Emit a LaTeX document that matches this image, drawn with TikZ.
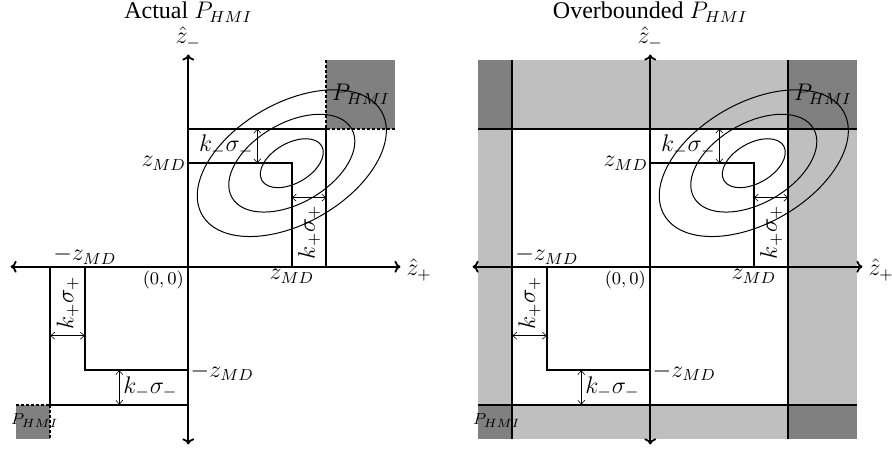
\documentclass[tikz,border=0pt]{standalone}
\usepackage[no-math]{fontspec}
\setmainfont{Liberation Serif}
\usetikzlibrary{arrows.meta}
\tikzset{
  lbl/.style={font=\large, inner sep=1pt},
  bnd/.style={line width=0.9pt},
  dsh/.style={line width=0.9pt, dash pattern=on 1.5pt off 1pt},
  dim/.style={line width=0.3pt,{Straight Barb[length=2pt,width=3.5pt]}-{Straight Barb[length=2pt,width=3.5pt]}},
  axisline/.style={line width=0.9pt,-{To[length=3pt,width=6pt]}},
  cont/.style={line width=0.5pt},
  darkfill/.style={fill=black!50},
  lightfill/.style={fill=black!25}
}
\newcommand\panelcommon[1]{%
  % contours
  \foreach \a in {1,2,3}{
    \draw[cont,rotate around={30:(3,3)}] (3,3) ellipse [x radius=\a, y radius=0.58*\a];
  }
  % axes
  \coordinate (#1xl) at (-5.15,0);
  \coordinate (#1xr) at (6.15,0);
  \coordinate (#1yb) at (0,-5.15);
  \coordinate (#1yt) at (0,6.15);
  \draw[axisline] (#1yb) -- (#1yt);
  \draw[axisline] (#1xl) -- (#1xr);
  \draw[axisline] (#1yt) -- (#1yb);
  \draw[axisline] (#1xr) -- (#1xl);
  % inner L shapes
  \coordinate (#1a1) at (0,3);
  \coordinate (#1a2) at (3,3);
  \coordinate (#1a3) at (3,0);
  \coordinate (#1b1) at (-3,0);
  \coordinate (#1b2) at (-3,-3);
  \coordinate (#1b3) at (0,-3);
  \draw[bnd] (#1a1) -- (#1a2) -- (#1a3);
  \draw[bnd] (#1b1) -- (#1b2) -- (#1b3);
  % dimension arrows
  \coordinate (#1d1) at (2,3); \coordinate (#1d2) at (2,4);
  \coordinate (#1e1) at (3,2); \coordinate (#1e2) at (4,2);
  \coordinate (#1f1) at (-4,-2); \coordinate (#1f2) at (-3,-2);
  \coordinate (#1g1) at (-2,-3); \coordinate (#1g2) at (-2,-4);
  \draw[dim] (#1d1) -- (#1d2);
  \draw[dim] (#1e1) -- (#1e2);
  \draw[dim] (#1f1) -- (#1f2);
  \draw[dim] (#1g1) -- (#1g2);
  % labels
  \node[lbl] (#1zm) at (0,6.63) {$\hat z_-$};
  \node[lbl] (#1zp) at (6.69,-0.1) {$\hat z_+$};
  \node[lbl,anchor=east] (#1zmd) at (0,3) {$z_{MD}$};
  \node[lbl,anchor=north] (#1zmdx) at (3,0) {$z_{MD}$};
  \node[lbl,anchor=south] (#1nzmd) at (-3,0) {$-z_{MD}$};
  \node[lbl,anchor=west] (#1nzmdy) at (0,-3.05) {$-z_{MD}$};
  \node[font=\small,anchor=north east,inner sep=2pt] (#1orig) at (0,0) {$(0,0)$};
  \node[lbl] (#1km1) at (1.1,3.5) {$k_-\sigma_-$};
  \node[lbl] (#1km2) at (-1.1,-3.5) {$k_-\sigma_-$};
  \node[lbl,rotate=90] (#1kp1) at (3.5,1.0) {$k_+\sigma_+$};
  \node[lbl,rotate=90] (#1kp2) at (-3.5,-1.05) {$k_+\sigma_+$};
  \node[lbl] (#1ph) at (5,5) {$P_{HMI}$};
  \node[font=\footnotesize,inner sep=0pt] (#1phs) at (-4.45,-4.45) {$P_{HMI}$};
}
\begin{document}
\begin{tikzpicture}[x=17.25pt,y=17.25pt]
\useasboundingbox (-5.458,-5.40) rectangle (20.397,7.73);
% ---------- left panel ----------
\begin{scope}
  \fill[darkfill] (4,4) rectangle (6,6);
  \fill[darkfill] (-5,-5) rectangle (-4,-4);
  \draw[dsh] (4,6) -- (4,4) -- (6,4);
  \draw[dsh] (-5,-4) -- (-4,-4) -- (-4,-5);
  \draw[bnd] (0,4) -- (4,4) -- (4,0);
  \draw[bnd] (-4,0) -- (-4,-4) -- (0,-4);
  \panelcommon{L}
  \node[lbl] (Ltitle) at (0,7.38) {Actual $P_{HMI}$};
\end{scope}
% ---------- right panel ----------
\begin{scope}[shift={(13.391,0)}]
  \fill[lightfill] (-5,-5) rectangle (6,6);
  \fill[white] (-4,-4) rectangle (4,4);
  \fill[darkfill] (-5,4) rectangle (-4,6);
  \fill[darkfill] (4,4) rectangle (6,6);
  \fill[darkfill] (-5,-5) rectangle (-4,-4);
  \fill[darkfill] (4,-5) rectangle (6,-4);
  \draw[bnd] (-4,-5) -- (-4,6);
  \draw[bnd] (4,-5) -- (4,6);
  \draw[bnd] (-5,4) -- (6,4);
  \draw[bnd] (-5,-4) -- (6,-4);
  \panelcommon{R}
  \node[lbl] (Rtitle) at (0,7.38) {Overbounded $P_{HMI}$};
\end{scope}
\end{tikzpicture}
\end{document}
